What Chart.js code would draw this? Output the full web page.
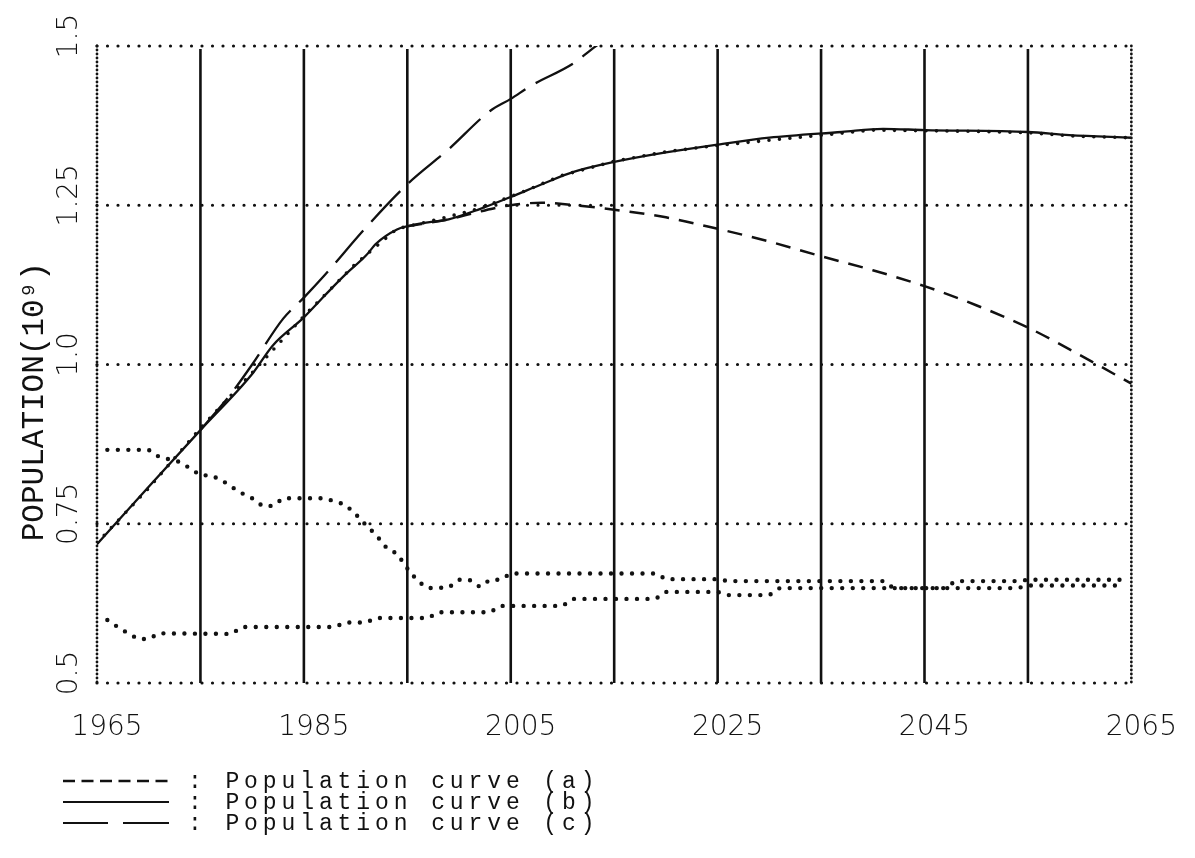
<!DOCTYPE html>
<html><head><meta charset="utf-8">
<script src="https://cdn.jsdelivr.net/npm/chart.js@4.4.0/dist/chart.umd.min.js"></script>
<style>
html,body{margin:0;padding:0;background:#fff;}
#wrap{position:relative;width:1195px;height:858px;overflow:hidden;}
#c{position:absolute;left:0;top:0;}
#legend{position:absolute;left:0;top:772px;font-family:"Liberation Mono",monospace;font-size:23px;letter-spacing:4.9px;color:#111;}
.row{position:relative;height:21px;white-space:pre;}
.row svg{position:absolute;left:62px;top:6px;}
.row span{position:absolute;left:188px;top:0;line-height:20px;}
</style></head><body>
<div id="wrap">
<canvas id="c" width="1195" height="858"></canvas>
<div id="legend">
 <div class="row"><svg width="108" height="6"><line x1="1" y1="3" x2="107" y2="3" stroke="#111" stroke-width="2.5" stroke-dasharray="12 6.5"/></svg><span>: Population curve (a)</span></div>
 <div class="row"><svg width="108" height="6"><line x1="1" y1="3" x2="107" y2="3" stroke="#111" stroke-width="2"/></svg><span>: Population curve (b)</span></div>
 <div class="row"><svg width="108" height="6"><line x1="1" y1="3" x2="46" y2="3" stroke="#111" stroke-width="2"/><line x1="61" y1="3" x2="107" y2="3" stroke="#111" stroke-width="2"/></svg><span>: Population curve (c)</span></div>
</div>
</div>
<script>
// ---- tick / grid definitions ----
const xTickYears = [1965, 1985, 2005, 2025, 2045, 2065];
const xTickLabels = ['1965', '1985', '2005', '2025', '2045', '2065'];
const gridYears = [1975, 1985, 1995, 2005, 2015, 2025, 2035, 2045, 2055];
const yTickValues = [0.5, 0.75, 1.0, 1.25, 1.5];
const yTickLabels = ['0.5', '0.75', '1.0', '1.25', '1.5'];

// ---- curve (a): dashed ----
const curveAYears  = [1995, 1999, 2002, 2005, 2008, 2010, 2015, 2020, 2025, 2030, 2035, 2040, 2045, 2050, 2055, 2060, 2065];
const curveAValues = [1.217, 1.228, 1.240, 1.250, 1.254, 1.252, 1.243, 1.231, 1.213, 1.193, 1.170, 1.148, 1.123, 1.093, 1.058, 1.015, 0.970];

// ---- curve (b): solid ----
const curveBYears  = [1965, 1970, 1975, 1980, 1982, 1985, 1987, 1989, 1991, 1992, 1994, 1995, 1997, 1999, 2002, 2005, 2008, 2011, 2015, 2020, 2025, 2030, 2037, 2041, 2045, 2055, 2059, 2065];
const curveBValues = [0.718, 0.808, 0.897, 0.985, 1.030, 1.074, 1.108, 1.141, 1.171, 1.190, 1.212, 1.217, 1.223, 1.228, 1.244, 1.263, 1.283, 1.302, 1.318, 1.333, 1.345, 1.356, 1.365, 1.370, 1.368, 1.365, 1.360, 1.356];

// ---- curve (c): long dashes ----
const curveCYears  = [1975, 1978, 1980, 1983, 1985, 1987, 1991, 1995, 1999, 2003, 2005, 2007, 2011, 2013, 2015];
const curveCValues = [0.897, 0.955, 1.000, 1.072, 1.105, 1.140, 1.215, 1.283, 1.338, 1.398, 1.417, 1.438, 1.472, 1.497, 1.520];

// ---- dotted series (unlabelled) ----
const dotsUpperYears  = [1965, 1970, 1975, 1980, 1985, 1990, 1994, 1998, 2002, 2006, 2010, 2015, 2020, 2025, 2030, 2035, 2040, 2045, 2050, 2055, 2060, 2065];
const dotsUpperValues = [0.720, 0.806, 0.900, 0.987, 1.076, 1.158, 1.213, 1.228, 1.245, 1.270, 1.297, 1.319, 1.334, 1.344, 1.352, 1.360, 1.368, 1.367, 1.366, 1.364, 1.358, 1.356];

const dotsMidYears  = [1966, 1970, 1971, 1973, 1974, 1975, 1976, 1977, 1978, 1979, 1980, 1981, 1982, 1983, 1987, 1989, 1990, 1991, 1992, 1993, 1994, 1995, 1996, 1997, 1999, 2000, 2001, 2002, 2003, 2004, 2005, 2019, 2020, 2025, 2026, 2041, 2042, 2047, 2048, 2054, 2055, 2064];
const dotsMidValues = [0.866, 0.866, 0.855, 0.847, 0.837, 0.826, 0.826, 0.819, 0.808, 0.798, 0.790, 0.778, 0.778, 0.790, 0.790, 0.780, 0.765, 0.748, 0.732, 0.712, 0.703, 0.680, 0.660, 0.649, 0.650, 0.662, 0.662, 0.651, 0.662, 0.662, 0.672, 0.672, 0.663, 0.663, 0.660, 0.660, 0.649, 0.649, 0.660, 0.660, 0.662, 0.662];

const dotsLowYears  = [1966, 1967, 1968, 1969, 1970, 1971, 1978, 1979, 1988, 1989, 1991, 1992, 1997, 1998, 2003, 2004, 2010, 2011, 2019, 2020, 2025, 2026, 2030, 2031, 2054, 2055, 2064];
const dotsLowValues = [0.599, 0.588, 0.578, 0.569, 0.569, 0.578, 0.577, 0.588, 0.588, 0.595, 0.595, 0.602, 0.602, 0.611, 0.611, 0.621, 0.621, 0.632, 0.632, 0.643, 0.643, 0.638, 0.638, 0.649, 0.649, 0.653, 0.653];

const pts = (xs, ys) => xs.map((x, i) => ({x: x, y: ys[i]}));
const INK = '#111';

const gridPlugin = {
  id: 'paperGrid',
  beforeDatasetsDraw(chart) {
    const {ctx, chartArea: {left, right, top, bottom}, scales: {x, y}} = chart;
    ctx.save();
    ctx.strokeStyle = INK;
    ctx.lineCap = 'round';
    ctx.lineWidth = 3.2;
    ctx.setLineDash([0, 10.5]);
    yTickValues.forEach(v => {
      const py = y.getPixelForValue(v);
      ctx.beginPath(); ctx.moveTo(left, py); ctx.lineTo(right, py); ctx.stroke();
    });
    ctx.lineWidth = 2.8;
    ctx.setLineDash([0, 4]);
    [x.min, x.max].forEach(v => {
      const px = x.getPixelForValue(v);
      ctx.beginPath(); ctx.moveTo(px, top); ctx.lineTo(px, bottom); ctx.stroke();
    });
    ctx.setLineDash([]);
    ctx.lineWidth = 2.6;
    ctx.lineCap = 'butt';
    gridYears.forEach(v => {
      const px = x.getPixelForValue(v);
      ctx.beginPath(); ctx.moveTo(px, top + 3); ctx.lineTo(px, bottom); ctx.stroke();
    });
    ctx.restore();
  }
};

const dotStyle = {borderColor: INK, borderWidth: 4.4, borderDash: [0, 10.5], borderCapStyle: 'round', pointRadius: 0, tension: 0, fill: false};

new Chart(document.getElementById('c'), {
  type: 'line',
  data: {
    datasets: [
      Object.assign({label: 'dots upper', data: pts(dotsUpperYears, dotsUpperValues)}, dotStyle, {borderWidth: 3.6}),
      Object.assign({label: 'dots mid', data: pts(dotsMidYears, dotsMidValues)}, dotStyle),
      Object.assign({label: 'dots low', data: pts(dotsLowYears, dotsLowValues)}, dotStyle),
      {label: 'Population curve (a)', data: pts(curveAYears, curveAValues), borderColor: INK, borderWidth: 2.5, borderDash: [15, 10], pointRadius: 0, cubicInterpolationMode: 'monotone', fill: false},
      {label: 'Population curve (b)', data: pts(curveBYears, curveBValues), borderColor: INK, borderWidth: 2.3, pointRadius: 0, cubicInterpolationMode: 'monotone', fill: false},
      {label: 'Population curve (c)', data: pts(curveCYears, curveCValues), borderColor: INK, borderWidth: 2.3, borderDash: [42, 12], pointRadius: 0, cubicInterpolationMode: 'monotone', fill: false}
    ]
  },
  options: {
    responsive: false,
    animation: false,
    events: [],
    layout: {padding: {top: 46, right: 48, bottom: 0, left: 0}},
    plugins: {legend: {display: false}, tooltip: {enabled: false}},
    scales: {
      x: {
        type: 'linear', min: 1965, max: 2065,
        afterBuildTicks: s => { s.ticks = xTickYears.map(v => ({value: v})); },
        afterFit: s => { s.height = 175; },
        grid: {display: false, drawTicks: false},
        border: {display: false},
        ticks: {
          autoSkip: false, maxRotation: 0, minRotation: 0,
          callback: (v) => xTickLabels[xTickYears.indexOf(v)],
          font: {family: 'DejaVu Sans', size: 28, weight: 200},
          color: INK, padding: 28, labelOffset: 10
        }
      },
      y: {
        type: 'linear', min: 0.5, max: 1.5,
        afterBuildTicks: s => { s.ticks = yTickValues.map(v => ({value: v})); },
        afterFit: s => { s.width = 97; },
        grid: {display: false, drawTicks: false},
        border: {display: false},
        ticks: {
          autoSkip: false, minRotation: 90, maxRotation: 90, crossAlign: 'center',
          callback: (v) => yTickLabels[yTickValues.indexOf(v)],
          font: {family: 'DejaVu Sans', size: 28, weight: 200},
          color: INK, padding: -4, labelOffset: -10
        },
        title: {
          display: true, text: 'POPULATION(10⁹)    ',
          font: {family: 'Liberation Mono', size: 31},
          color: INK, padding: {top: 16, bottom: 0}
        }
      }
    }
  },
  plugins: [gridPlugin]
});
</script>
</body></html>
